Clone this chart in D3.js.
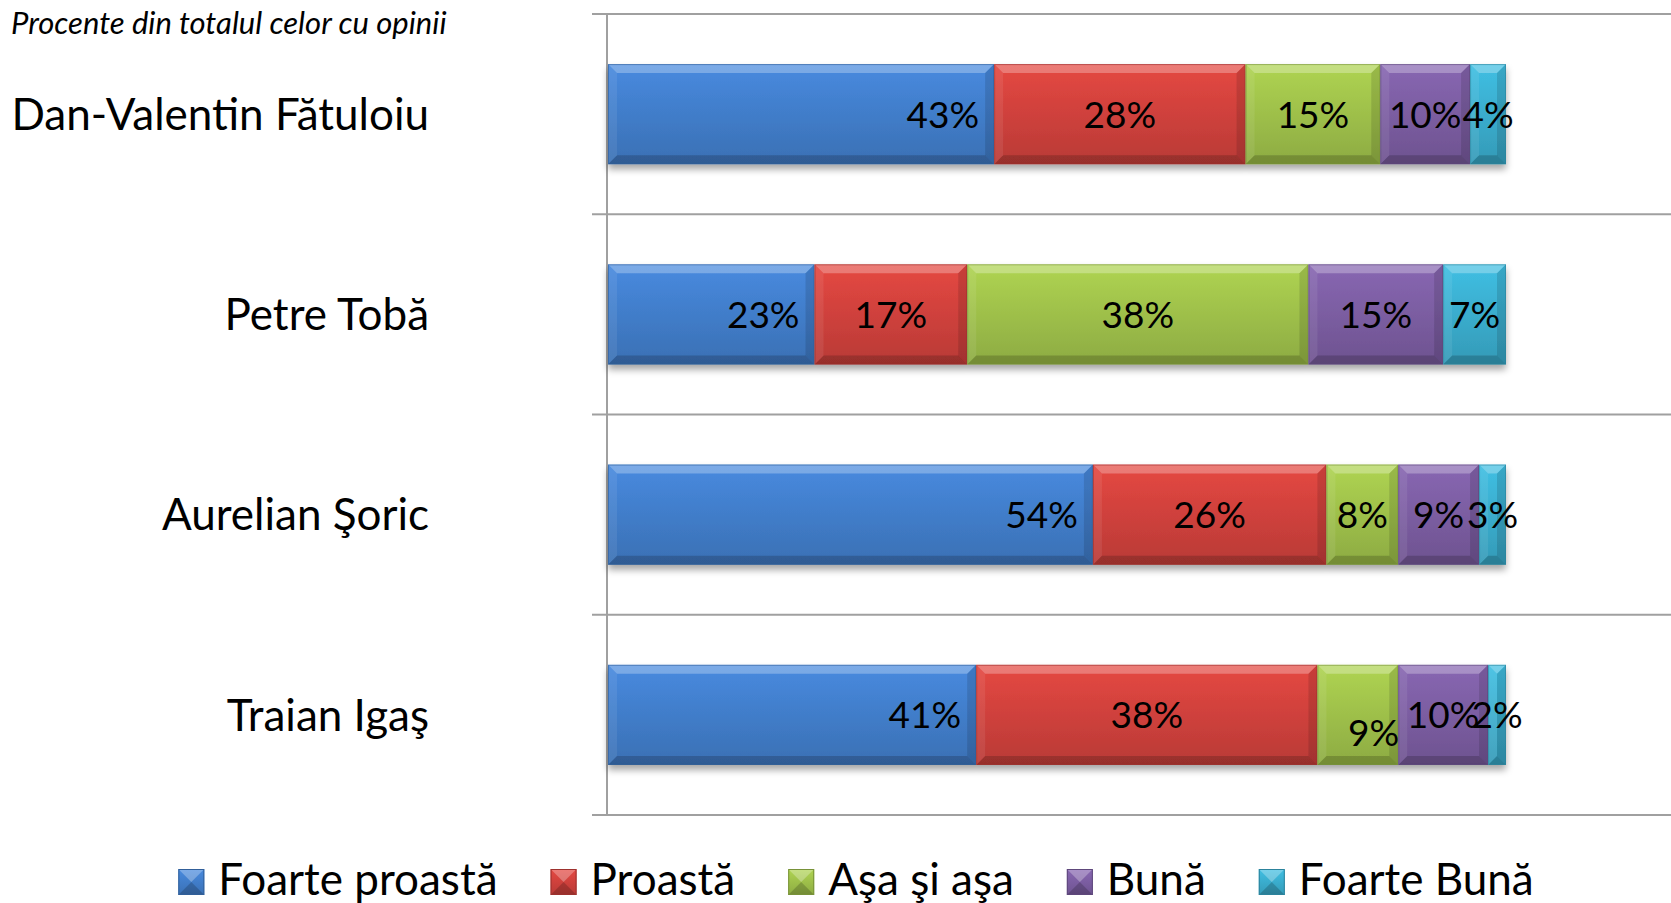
<!DOCTYPE html>
<html>
<head>
<meta charset="utf-8">
<script src="https://cdn.jsdelivr.net/npm/d3@7"></script>
<style>
  html, body { margin: 0; padding: 0; background: #fff; }
  svg { display: block; }
  text { font-family: Lato, "Noto Sans", sans-serif; fill: #000; }
</style>
</head>
<body>
<svg id="chart" width="1671" height="903"></svg>
<script>
// ---------- data ----------
const subtitle = "Procente din totalul celor cu opinii";
const categories = ["Dan-Valentin Fătuloiu", "Petre Tobă", "Aurelian Şoric", "Traian Igaş"];
const seriesNames = ["Foarte proastă", "Proastă", "Aşa şi aşa", "Bună", "Foarte Bună"];
const foartePoasta = [43, 23, 54, 41];
const proasta      = [28, 17, 26, 38];
const asaSiAsa     = [15, 38, 8, 9];
const buna         = [10, 15, 9, 10];
const foarteBuna   = [4, 7, 3, 2];
const seriesValues = [foartePoasta, proasta, asaSiAsa, buna, foarteBuna];

// ---------- styles ----------
const colors = ["#4483d3", "#d9443f", "#a6c94e", "#8162a9", "#3db5d7"];
const svg = d3.select("#chart");
const defs = svg.append("defs");

colors.forEach((c, i) => {
  const g = defs.append("linearGradient").attr("id", "grad" + i)
    .attr("x1", 0).attr("y1", 0).attr("x2", 0).attr("y2", 1);
  g.append("stop").attr("offset", "0%").attr("stop-color", d3.color(c).brighter(0.15));
  g.append("stop").attr("offset", "100%").attr("stop-color", d3.color(c).darker(0.45));
});
const f = defs.append("filter").attr("id", "shadow")
  .attr("x", "-5%").attr("y", "-20%").attr("width", "110%").attr("height", "150%");
f.append("feDropShadow").attr("dx", 0).attr("dy", 5).attr("stdDeviation", 3.5)
  .attr("flood-color", "#000").attr("flood-opacity", 0.35);

// ---------- scales ----------
const x = d3.scaleLinear().domain([0, 100]).range([608, 1506]);
const y = d3.scaleBand().domain(categories).range([14, 815])
  .paddingInner(0.5).paddingOuter(0.25);
const step = y.step();

// ---------- gridlines & axis ----------
const grid = svg.append("g");
for (let i = 0; i <= categories.length; i++) {
  const gy = 14 + i * step;
  grid.append("line").attr("x1", 592).attr("x2", 1671)
    .attr("y1", gy).attr("y2", gy)
    .attr("stroke", "#a0a0a0").attr("stroke-width", 2);
}
grid.append("line").attr("x1", 607).attr("x2", 607)
  .attr("y1", 14).attr("y2", 815)
  .attr("stroke", "#a0a0a0").attr("stroke-width", 2);

// ---------- subtitle ----------
svg.append("text").attr("x", 11).attr("y", 34)
  .attr("font-size", 31).attr("font-style", "italic")
  .text(subtitle);

// ---------- category labels ----------
const yAxis = d3.axisLeft(y).tickSize(0).tickPadding(0);
const yAx = svg.append("g").attr("transform", "translate(429,0)").call(yAxis);
yAx.select(".domain").remove();
yAx.selectAll("text").attr("font-size", 44).attr("font-family", "Lato, sans-serif")
  .attr("fill", "#000").attr("dy", "0.36em");

// ---------- stacked bars ----------
const stackData = categories.map((c, ci) => {
  let acc = 0;
  return seriesValues.map((vals, si) => {
    const v = vals[ci];
    const d = { cat: c, ci, si, v, x0: acc, x1: acc + v };
    acc += v;
    return d;
  });
});

const bevel = 9;
const barsG = svg.append("g");
stackData.forEach(row => {
  const rg = barsG.append("g").attr("filter", "url(#shadow)");
  row.forEach(d => {
    const x0 = x(d.x0), x1 = x(d.x1), y0 = y(d.cat), y1 = y0 + y.bandwidth();
    const b = Math.min(bevel, (x1 - x0) / 2);
    const g = rg.append("g");
    g.append("rect").attr("x", x0).attr("y", y0).attr("width", x1 - x0).attr("height", y1 - y0)
      .attr("fill", `url(#grad${d.si})`);
    g.append("polygon").attr("points", `${x0},${y0} ${x1},${y0} ${x1 - b},${y0 + b} ${x0 + b},${y0 + b}`)
      .attr("fill", "#fff").attr("opacity", 0.28);
    g.append("polygon").attr("points", `${x0},${y1} ${x1},${y1} ${x1 - b},${y1 - b} ${x0 + b},${y1 - b}`)
      .attr("fill", "#000").attr("opacity", 0.18);
    g.append("polygon").attr("points", `${x0},${y0} ${x0 + b},${y0 + b} ${x0 + b},${y1 - b} ${x0},${y1}`)
      .attr("fill", "#fff").attr("opacity", 0.08);
    g.append("polygon").attr("points", `${x1},${y0} ${x1 - b},${y0 + b} ${x1 - b},${y1 - b} ${x1},${y1}`)
      .attr("fill", "#000").attr("opacity", 0.12);
    g.append("rect").attr("x", x0 + 0.5).attr("y", y0 + 0.5).attr("width", x1 - x0 - 1).attr("height", y1 - y0 - 1)
      .attr("fill", "none").attr("stroke", d3.color(colors[d.si]).darker(0.9)).attr("stroke-width", 1).attr("opacity", 0.6);
  });
});

// ---------- data labels ----------
const labelsG = svg.append("g");
stackData.forEach(row => {
  row.forEach(d => {
    const cy = y(d.cat) + y.bandwidth() / 2;
    let lx, anchor = "middle", dy = 0;
    if (d.si === 0) { lx = x(d.x1) - 15; anchor = "end"; }
    else { lx = (x(d.x0) + x(d.x1)) / 2; }
    // manually moved label in the original (Traian Igaş, "Aşa şi aşa")
    if (d.ci === 3 && d.si === 2) { lx = x(d.x1) + 1; anchor = "end"; dy = 18; }
    labelsG.append("text").attr("x", lx).attr("y", cy + 13.5 + dy)
      .attr("text-anchor", anchor).attr("font-size", 37)
      .text(d.v + "%");
  });
});

// ---------- legend ----------
const legend = svg.append("g");
let cx = 0;
seriesNames.forEach((name, i) => {
  const g = legend.append("g");
  const sw = 26;
  g.append("rect").attr("x", cx).attr("y", 869).attr("width", sw).attr("height", sw)
    .attr("fill", `url(#grad${i})`);
  g.append("polygon").attr("points", `${cx},869 ${cx + sw},869 ${cx + sw / 2},${869 + sw / 2}`)
    .attr("fill", "#fff").attr("opacity", 0.28);
  g.append("polygon").attr("points", `${cx},895 ${cx + sw},895 ${cx + sw / 2},${869 + sw / 2}`)
    .attr("fill", "#000").attr("opacity", 0.18);
  g.append("rect").attr("x", cx + 0.5).attr("y", 869.5).attr("width", sw - 1).attr("height", sw - 1)
    .attr("fill", "none").attr("stroke", d3.color(colors[i]).darker(0.9)).attr("stroke-width", 1);
  const t = g.append("text").attr("x", cx + sw + 14).attr("y", 895)
    .attr("font-size", 44).text(name);
  const w = t.node().getComputedTextLength();
  cx += sw + 14 + w + 53;
});
const totalW = cx - 53;
legend.attr("transform", `translate(${856 - totalW / 2},0)`);
</script>
</body>
</html>
